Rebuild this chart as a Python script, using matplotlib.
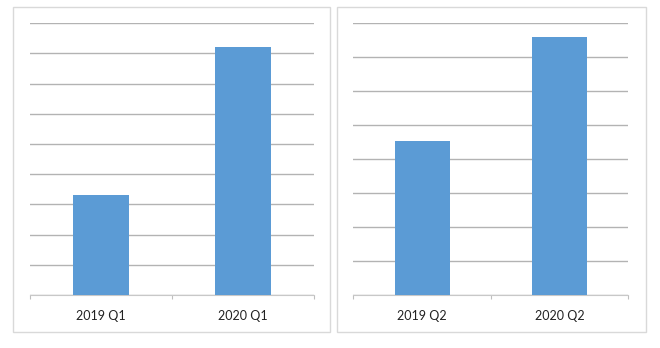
import matplotlib
matplotlib.use("Agg")
import matplotlib.pyplot as plt
from matplotlib.patches import Rectangle

# values in gridline units (no y labels shown in the original)
q1_labels = ["2019 Q1", "2020 Q1"]
q1_values = [3.3, 8.2]
q2_labels = ["2019 Q2", "2020 Q2"]
q2_values = [4.53, 7.6]

bar_color = "#5b9bd5"
grid_color = "#b3b3b3"
border_color = "#d9d9d9"

W, H = 660, 348
fig = plt.figure(figsize=(W / 100, H / 100), dpi=100)
plt.rcParams["font.family"] = ["Lato", "DejaVu Sans"]


def px_rect(x0, y0, x1, y1):
    # pixel box (top-left origin) -> figure fraction [left, bottom, width, height]
    return [x0 / W, (H - y1) / H, (x1 - x0) / W, (y1 - y0) / H]


def panel(box, area, labels, values, ymax):
    b = px_rect(*box)
    fig.patches.append(Rectangle((b[0], b[1]), b[2], b[3], transform=fig.transFigure,
                                 fill=False, edgecolor=border_color, linewidth=1))
    ax = fig.add_axes(px_rect(*area))
    x = list(range(len(labels)))
    ax.bar(x, values, width=0.4, color=bar_color, zorder=3)
    ax.set_xlim(-0.5, len(labels) - 0.5)
    ax.set_ylim(0, ymax)
    ax.set_yticks(range(0, ymax + 1))
    ax.yaxis.grid(True, color=grid_color, linewidth=1)
    ax.set_axisbelow(True)
    ax.tick_params(axis="y", left=False, labelleft=False)
    ax.set_xticks(x)
    ax.set_xticklabels(labels, fontsize=9, color="#222222")
    ax.tick_params(axis="x", which="major", length=0, pad=11)
    ax.set_xticks([i - 0.5 for i in range(len(labels) + 1)], minor=True)
    ax.tick_params(axis="x", which="minor", length=3, color="#bfbfbf", width=0.8)
    for s in ["top", "left", "right"]:
        ax.spines[s].set_visible(False)
    ax.spines["bottom"].set_color("#c8c8c8")
    ax.patch.set_alpha(0)
    return ax


panel((13, 7, 330, 332), (30, 23.3, 314, 295), q1_labels, q1_values, 9)
panel((337, 7, 646, 332), (353.3, 23.3, 628.3, 295), q2_labels, q2_values, 8)

fig.savefig("out.png", dpi=100)
